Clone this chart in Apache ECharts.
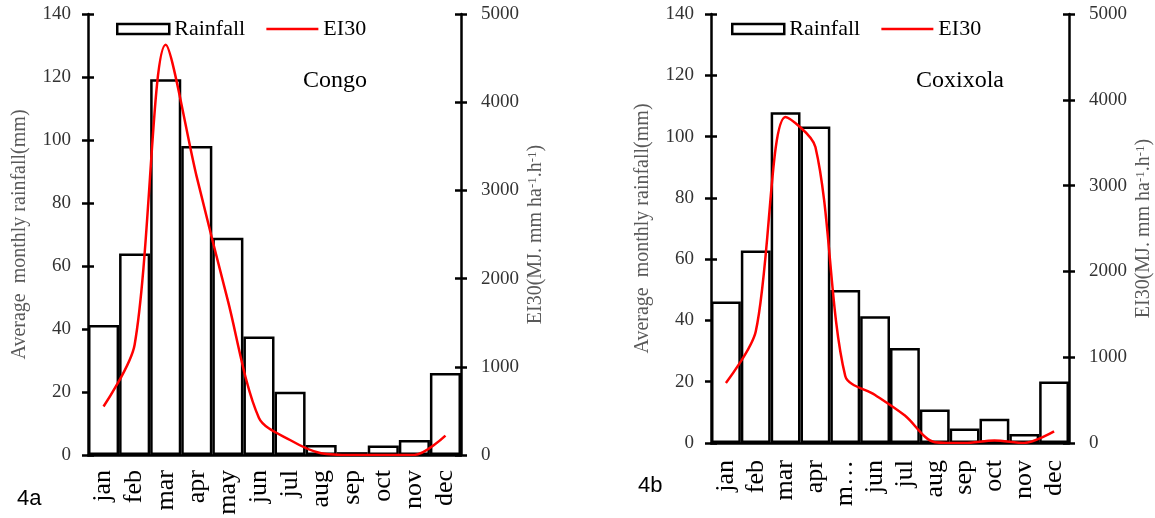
<!DOCTYPE html>
<html>
<head>
<meta charset="utf-8">
<script src="https://cdn.jsdelivr.net/npm/echarts@6/dist/echarts.min.js"></script>
<style>
  html, body { margin: 0; padding: 0; background: #fff; }
  #chart { width: 1155px; height: 518px; }
</style>
</head>
<body>
<div id="chart"></div>
<script>
// months on the x axis
const months = ['jan', 'feb', 'mar', 'apr', 'may', 'jun', 'jul', 'aug', 'sep', 'oct', 'nov', 'dec'];
// tick labels as printed under each panel (may is cut short in 4b)
const labelsCongo = ['jan', 'feb', 'mar', 'apr', 'may', 'jun', 'jul', 'aug', 'sep', 'oct', 'nov', 'dec'];
const labelsCoxixola = ['jan', 'feb', 'mar', 'apr', 'm…', 'jun', 'jul', 'aug', 'sep', 'oct', 'nov', 'dec'];

// 4a Congo
const rainCongo = [41.3, 64, 119.3, 98.1, 69, 37.6, 20.1, 3.2, 0.9, 3, 4.8, 26];
const ei30Congo = [550, 1250, 4650, 3150, 1750, 420, 170, 20, 0, 0, 0, 220];

// 4b Coxixola
const rainCoxixola = [46.2, 62.8, 107.9, 103.3, 49.9, 41.4, 31, 10.9, 4.7, 7.9, 2.9, 20.1];
const ei30Coxixola = [700, 1300, 3800, 3450, 780, 560, 320, 10, 0, 30, 0, 135];

const serif = 'Liberation Serif';
const black = '#000';

const chart = echarts.init(document.getElementById('chart'));

const yAxes = [];
// main axis + a twin that draws the inner half of the ticks, so they cross the line
function addY(gridIndex, position, max, interval, extra) {
  yAxes.push(Object.assign({
    type: 'value', gridIndex: gridIndex, position: position,
    min: 0, max: max, interval: interval,
    axisLine: { show: true, lineStyle: { color: black, width: 2.5 } },
    axisTick: { show: true, length: 6, lineStyle: { color: black, width: 2.5 } },
    axisLabel: { color: '#333', fontFamily: serif, fontSize: 19, margin: 17 },
    splitLine: { show: false }
  }, extra));
  yAxes.push({
    type: 'value', gridIndex: gridIndex, position: position,
    min: 0, max: max, interval: interval,
    axisLine: { show: false },
    axisTick: { show: true, inside: true, length: 6, lineStyle: { color: black, width: 2.5 } },
    axisLabel: { show: false },
    splitLine: { show: false }
  });
}

const rainName = {
  name: 'Average  monthly rainfall(mm)', nameLocation: 'middle', nameRotate: 90, nameGap: 58,
  nameTextStyle: { color: '#595959', fontFamily: serif, fontSize: 20 }
};
const eiName = {
  name: 'EI30(MJ. mm ha{s|-1}.h{s|-1})', nameLocation: 'middle', nameRotate: 90, nameGap: 65,
  nameTextStyle: {
    color: '#595959', fontFamily: serif, fontSize: 20,
    rich: { s: { color: '#595959', fontFamily: serif, fontSize: 13, verticalAlign: 'top', lineHeight: 20 } }
  },
  // plain numbers, no thousands separator
  axisLabel: { color: '#333', fontFamily: serif, fontSize: 19, margin: 20, formatter: function (v) { return String(v); } }
};

addY(0, 'left', 140, 20, rainName);
addY(0, 'right', 5000, 1000, eiName);
addY(1, 'left', 140, 20, rainName);
addY(1, 'right', 5000, 1000, eiName);

function xAxis(gridIndex, labels, margin) {
  return {
    type: 'category', gridIndex: gridIndex, data: months,
    axisLine: { show: true, lineStyle: { color: black, width: 2.5 } },
    axisTick: { show: false },
    axisLabel: {
      interval: 0, rotate: 90, margin: margin, color: black,
      fontFamily: serif, fontSize: 26,
      formatter: function (v, i) { return labels[i]; }
    }
  };
}

function barSeries(xi, yi, data) {
  return {
    name: 'Rainfall', type: 'bar', xAxisIndex: xi, yAxisIndex: yi, data: data,
    barCategoryGap: '0%',
    itemStyle: { color: '#fff', borderColor: black, borderWidth: 2.5 },
    z: 2
  };
}
function lineSeries(xi, yi, data) {
  return {
    name: 'EI30', type: 'line', xAxisIndex: xi, yAxisIndex: yi, data: data,
    smooth: 0.3, symbol: 'none',
    lineStyle: { color: '#ff0000', width: 2.5 },
    itemStyle: { color: '#ff0000' },
    z: 3
  };
}

function legend(left) {
  return {
    left: left, top: 18, orient: 'horizontal', padding: 0,
    itemWidth: 52, itemHeight: 10, itemGap: 20,
    selectedMode: false,
    textStyle: { fontFamily: serif, fontSize: 22, color: black },
    data: [
      { name: 'Rainfall', icon: 'rect', itemStyle: { color: '#fff', borderColor: black, borderWidth: 2.5 } },
      { name: 'EI30', itemStyle: { opacity: 0 }, lineStyle: { color: '#ff0000', width: 2.5 } }
    ]
  };
}

const panelTitle = { fontFamily: serif, fontSize: 24, fontWeight: 'normal', color: black };
const tagStyle = { fontFamily: 'Liberation Sans', fontSize: 22, fontWeight: 'normal', color: black };

chart.setOption({
  animation: false,
  backgroundColor: '#fff',
  title: [
    { text: 'Congo', left: 303, top: 69, padding: 0, textStyle: panelTitle },
    { text: 'Coxixola', left: 916, top: 69, padding: 0, textStyle: panelTitle },
    { text: '4a', left: 17, top: 488, padding: 0, textStyle: tagStyle },
    { text: '4b', left: 638, top: 475, padding: 0, textStyle: tagStyle }
  ],
  legend: [legend(116), legend(731)],
  grid: [
    { left: 88, top: 14, width: 373, height: 441 },
    { left: 711, top: 14, width: 361, height: 429 }
  ],
  xAxis: [xAxis(0, labelsCongo, 15), xAxis(1, labelsCoxixola, 17)],
  yAxis: yAxes,
  series: [
    barSeries(0, 0, rainCongo),
    lineSeries(0, 2, ei30Congo),
    barSeries(1, 4, rainCoxixola),
    lineSeries(1, 6, ei30Coxixola)
  ]
});
</script>
</body>
</html>
